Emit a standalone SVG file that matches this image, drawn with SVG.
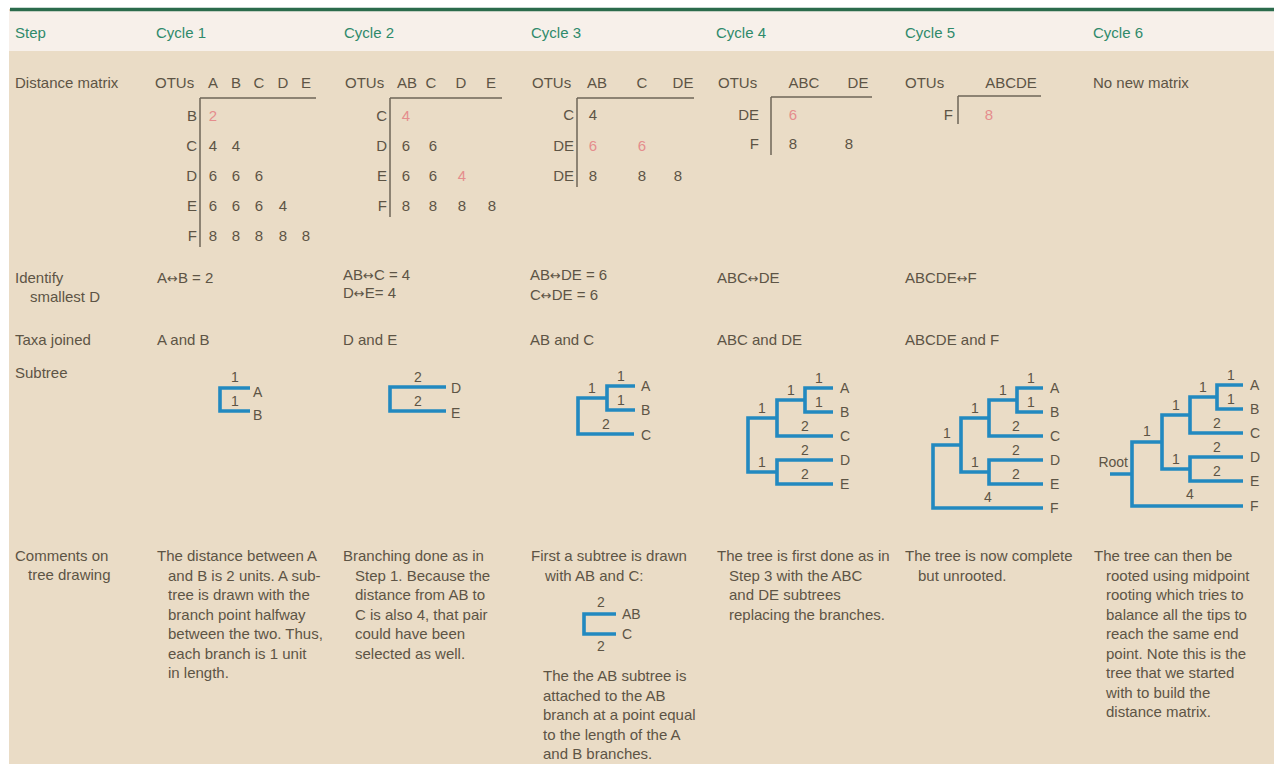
<svg xmlns="http://www.w3.org/2000/svg" width="1280" height="764" viewBox="0 0 1280 764">
<style>
text{font-family:"Liberation Sans",Arial,sans-serif;font-size:15px;fill:#5d5445}
.h{fill:#2f8a6a;font-size:15px}
.r{fill:#e58d8d}
.m{text-anchor:middle}
.e{text-anchor:end}
.t{font-size:14px}
.a{font-family:"DejaVu Sans",sans-serif;font-size:13px}
.ml{stroke:#6f6658;stroke-width:1.5;fill:none}
.tr{stroke:#2289c0;stroke-width:3.6;fill:none;stroke-linejoin:miter}
</style>
<rect width="1280" height="764" fill="#ffffff"/>
<rect x="9" y="9" width="1265" height="755" fill="#eadcc6"/>
<rect x="9" y="11" width="1265" height="40" fill="#f7f0ea"/>
<line x1="10" y1="9.5" x2="1274" y2="9.5" stroke="#2b6b4c" stroke-width="3.5"/>

<g id="header">
<text class="h" x="15" y="38">Step</text>
<text class="h" x="156" y="38">Cycle 1</text>
<text class="h" x="344" y="38">Cycle 2</text>
<text class="h" x="531" y="38">Cycle 3</text>
<text class="h" x="716" y="38">Cycle 4</text>
<text class="h" x="905" y="38">Cycle 5</text>
<text class="h" x="1093" y="38">Cycle 6</text>
</g>

<g id="row-labels">
<text x="15" y="88">Distance matrix</text>
<text x="15" y="283">Identify</text>
<text x="30" y="302">smallest D</text>
<text x="15" y="345">Taxa joined</text>
<text x="15" y="378">Subtree</text>
<text x="15" y="561">Comments on</text>
<text x="28" y="580">tree drawing</text>
</g>

<g id="matrix1">
<text x="155" y="88">OTUs</text>
<text class="m" x="213" y="88">A</text><text class="m" x="236" y="88">B</text><text class="m" x="259" y="88">C</text><text class="m" x="283" y="88">D</text><text class="m" x="306" y="88">E</text>
<path class="ml" d="M200,98 H316 M200,98 V247"/>
<text class="e" x="197" y="121">B</text><text class="m r" x="213" y="121">2</text>
<text class="e" x="197" y="151">C</text><text class="m" x="213" y="151">4</text><text class="m" x="236" y="151">4</text>
<text class="e" x="197" y="181">D</text><text class="m" x="213" y="181">6</text><text class="m" x="236" y="181">6</text><text class="m" x="259" y="181">6</text>
<text class="e" x="197" y="211">E</text><text class="m" x="213" y="211">6</text><text class="m" x="236" y="211">6</text><text class="m" x="259" y="211">6</text><text class="m" x="283" y="211">4</text>
<text class="e" x="197" y="241">F</text><text class="m" x="213" y="241">8</text><text class="m" x="236" y="241">8</text><text class="m" x="259" y="241">8</text><text class="m" x="283" y="241">8</text><text class="m" x="306" y="241">8</text>
</g>

<g id="matrix2">
<text x="345" y="88">OTUs</text>
<text class="m" x="407" y="88">AB</text><text class="m" x="431" y="88">C</text><text class="m" x="461" y="88">D</text><text class="m" x="491" y="88">E</text>
<path class="ml" d="M390,98 H502 M390,98 V217"/>
<text class="e" x="387" y="121">C</text><text class="m r" x="406" y="121">4</text>
<text class="e" x="387" y="151">D</text><text class="m" x="406" y="151">6</text><text class="m" x="433" y="151">6</text>
<text class="e" x="387" y="181">E</text><text class="m" x="406" y="181">6</text><text class="m" x="433" y="181">6</text><text class="m r" x="462" y="181">4</text>
<text class="e" x="387" y="211">F</text><text class="m" x="406" y="211">8</text><text class="m" x="433" y="211">8</text><text class="m" x="462" y="211">8</text><text class="m" x="492" y="211">8</text>
</g>

<g id="matrix3">
<text x="532" y="88">OTUs</text>
<text class="m" x="597" y="88">AB</text><text class="m" x="642" y="88">C</text><text class="m" x="683" y="88">DE</text>
<path class="ml" d="M577,98 H694 M577,98 V187"/>
<text class="e" x="574" y="120">C</text><text class="m" x="593" y="120">4</text>
<text class="e" x="574" y="151">DE</text><text class="m r" x="593" y="151">6</text><text class="m r" x="642" y="151">6</text>
<text class="e" x="574" y="181">DE</text><text class="m" x="593" y="181">8</text><text class="m" x="642" y="181">8</text><text class="m" x="678" y="181">8</text>
</g>

<g id="matrix4">
<text x="718" y="88">OTUs</text>
<text class="m" x="804" y="88">ABC</text><text class="m" x="858" y="88">DE</text>
<path class="ml" d="M771,97 H872 M771,97 V155"/>
<text class="e" x="759" y="120">DE</text><text class="m r" x="793" y="120">6</text>
<text class="e" x="759" y="149">F</text><text class="m" x="793" y="149">8</text><text class="m" x="849" y="149">8</text>
</g>

<g id="matrix5">
<text x="905" y="88">OTUs</text>
<text class="m" x="1011" y="88">ABCDE</text>
<path class="ml" d="M958,96 H1041 M958,96 V124"/>
<text class="e" x="953" y="120">F</text><text class="m r" x="989" y="120">8</text>
</g>

<g id="matrix6">
<text x="1093" y="88">No new matrix</text>
</g>

<g id="identify">
<text x="157" y="283">A<tspan class="a">↔</tspan>B = 2</text>
<text x="343" y="280">AB<tspan class="a">↔</tspan>C = 4</text>
<text x="343" y="298">D<tspan class="a">↔</tspan>E= 4</text>
<text x="530" y="280">AB<tspan class="a">↔</tspan>DE = 6</text>
<text x="530" y="300">C<tspan class="a">↔</tspan>DE = 6</text>
<text x="717" y="283">ABC<tspan class="a">↔</tspan>DE</text>
<text x="905" y="283">ABCDE<tspan class="a">↔</tspan>F</text>
</g>

<g id="taxa">
<text x="157" y="345">A and B</text>
<text x="343" y="345">D and E</text>
<text x="530" y="345">AB and C</text>
<text x="717" y="345">ABC and DE</text>
<text x="905" y="345">ABCDE and F</text>
</g>

<g id="tree1">
<path class="tr" d="M250,388 H220 V411 H250"/>
<text class="t m" x="235" y="382">1</text><text class="t m" x="235" y="406">1</text>
<text class="t" x="253" y="397">A</text><text class="t" x="253" y="420">B</text>
</g>

<g id="tree2">
<path class="tr" d="M446,387 H390 V411 H446"/>
<text class="t m" x="418" y="382">2</text><text class="t m" x="418" y="406">2</text>
<text class="t" x="451" y="393">D</text><text class="t" x="451" y="418">E</text>
</g>

<g id="tree3">
<path class="tr" d="M635,386 H607 V410 H635 M607,398 H578 V434 H634"/>
<text class="t m" x="621" y="381">1</text><text class="t m" x="621" y="405">1</text>
<text class="t m" x="592" y="393">1</text><text class="t m" x="606" y="429">2</text>
<text class="t" x="641" y="391">A</text><text class="t" x="641" y="415">B</text><text class="t" x="641" y="440">C</text>
</g>

<g id="tree4">
<path class="tr" d="M833,388 H805 V412 H833 M805,400 H777 V436 H833 M777,418 H748 V472 H777 M833,460 H777 V484 H833"/>
<text class="t m" x="819" y="383">1</text><text class="t m" x="819" y="407">1</text>
<text class="t m" x="791" y="395">1</text><text class="t m" x="762" y="413">1</text>
<text class="t m" x="805" y="431">2</text><text class="t m" x="805" y="455">2</text>
<text class="t m" x="762" y="467">1</text><text class="t m" x="805" y="479">2</text>
<text class="t" x="840" y="393">A</text><text class="t" x="840" y="417">B</text><text class="t" x="840" y="441">C</text><text class="t" x="840" y="465">D</text><text class="t" x="840" y="489">E</text>
</g>

<g id="tree5">
<path class="tr" d="M1043,388 H1017 V412 H1043 M1017,400 H989 V436 H1043 M989,418 H961 V472 H989 M1043,460 H989 V484 H1043 M961,445 H933 V508 H1043"/>
<text class="t m" x="1031" y="383">1</text><text class="t m" x="1031" y="407">1</text>
<text class="t m" x="1003" y="395">1</text><text class="t m" x="975" y="413">1</text>
<text class="t m" x="1016" y="431">2</text><text class="t m" x="1016" y="455">2</text>
<text class="t m" x="975" y="467">1</text><text class="t m" x="1016" y="479">2</text>
<text class="t m" x="947" y="438">1</text><text class="t m" x="988" y="502">4</text>
<text class="t" x="1050" y="393">A</text><text class="t" x="1050" y="417">B</text><text class="t" x="1050" y="441">C</text><text class="t" x="1050" y="465">D</text><text class="t" x="1050" y="489">E</text><text class="t" x="1050" y="513">F</text>
</g>

<g id="tree6">
<path class="tr" d="M1243,385 H1217 V409 H1243 M1217,397 H1190 V433 H1243 M1190,415 H1162 V469 H1190 M1243,457 H1190 V481 H1243 M1162,442 H1132 V506 H1243 M1132,474 H1110"/>
<text class="t m" x="1231" y="380">1</text><text class="t m" x="1231" y="404">1</text>
<text class="t m" x="1203" y="392">1</text><text class="t m" x="1176" y="410">1</text>
<text class="t m" x="1217" y="428">2</text><text class="t m" x="1217" y="452">2</text>
<text class="t m" x="1176" y="464">1</text><text class="t m" x="1217" y="476">2</text>
<text class="t m" x="1147" y="436">1</text><text class="t m" x="1190" y="499">4</text>
<text class="t e" x="1128" y="467">Root</text>
<text class="t" x="1250" y="390">A</text><text class="t" x="1250" y="414">B</text><text class="t" x="1250" y="438">C</text><text class="t" x="1250" y="462">D</text><text class="t" x="1250" y="486">E</text><text class="t" x="1250" y="511">F</text>
</g>

<g id="comment1">
<text x="157" y="561">The distance between A</text>
<text x="168" y="580.5">and B is 2 units. A sub-</text>
<text x="168" y="600">tree is drawn with the</text>
<text x="168" y="619.5">branch point halfway</text>
<text x="168" y="639">between the two. Thus,</text>
<text x="168" y="658.5">each branch is 1 unit</text>
<text x="168" y="678">in length.</text>
</g>

<g id="comment2">
<text x="343" y="561">Branching done as in</text>
<text x="355" y="580.5">Step 1. Because the</text>
<text x="355" y="600">distance from AB to</text>
<text x="355" y="619.5">C is also 4, that pair</text>
<text x="355" y="639">could have been</text>
<text x="355" y="658.5">selected as well.</text>
</g>

<g id="comment3">
<text x="531" y="561">First a subtree is drawn</text>
<text x="545" y="580.5">with AB and C:</text>
<path class="tr" d="M616,614 H584 V634 H616"/>
<text class="t m" x="601" y="607">2</text><text class="t m" x="601" y="651">2</text>
<text class="t" x="622" y="619">AB</text><text class="t" x="622" y="639">C</text>
<text x="543" y="681">The the AB subtree is</text>
<text x="543" y="700.5">attached to the AB</text>
<text x="543" y="720">branch at a point equal</text>
<text x="543" y="739.5">to the length of the A</text>
<text x="543" y="759">and B branches.</text>
</g>

<g id="comment4">
<text x="717" y="561">The tree is first done as in</text>
<text x="729" y="580.5">Step 3 with the ABC</text>
<text x="729" y="600">and DE subtrees</text>
<text x="729" y="619.5">replacing the branches.</text>
</g>

<g id="comment5">
<text x="905" y="561">The tree is now complete</text>
<text x="918" y="580.5">but unrooted.</text>
</g>

<g id="comment6">
<text x="1094" y="561">The tree can then be</text>
<text x="1106" y="580.5">rooted using midpoint</text>
<text x="1106" y="600">rooting which tries to</text>
<text x="1106" y="619.5">balance all the tips to</text>
<text x="1106" y="639">reach the same end</text>
<text x="1106" y="658.5">point. Note this is the</text>
<text x="1106" y="678">tree that we started</text>
<text x="1106" y="697.5">with to build the</text>
<text x="1106" y="717">distance matrix.</text>
</g>
</svg>
